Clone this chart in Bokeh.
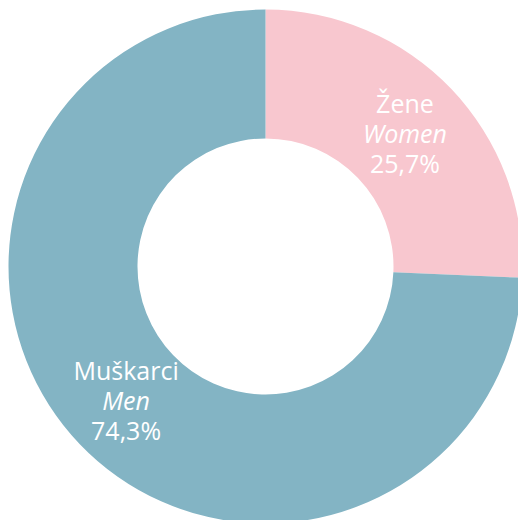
import math
from bokeh.plotting import figure
from bokeh.models import ColumnDataSource, Range1d
from bokeh.core.properties import value
from bokeh.embed import file_html
from bokeh.resources import INLINE

labels_hr = ["Žene", "Muškarci"]
labels_en = ["Women", "Men"]
shares = [25.7, 74.3]
pct_labels = ["25,7%", "74,3%"]
colors = ["#F8C7CF", "#83B4C4"]

# angles (clockwise from top)
starts, ends, mids = [], [], []
cum = 0.0
for s in shares:
    a0 = math.pi / 2 - 2 * math.pi * cum / 100.0
    a1 = math.pi / 2 - 2 * math.pi * (cum + s) / 100.0
    starts.append(a0)
    ends.append(a1)
    mids.append((a0 + a1) / 2)
    cum += s

R_OUT = 257
R_IN = 128
R_LAB = 193

src = ColumnDataSource(dict(start=starts, end=ends, color=colors,
                            x=[0] * len(shares), y=[0] * len(shares)))

p = figure(width=518, height=520, output_backend="svg", toolbar_location=None,
           x_range=Range1d(-265, 253), y_range=Range1d(-254, 266),
           min_border=0, outline_line_color=None)
p.axis.visible = False
p.grid.visible = False
p.background_fill_color = "white"
p.border_fill_color = "white"

p.annular_wedge(x="x", y="y", inner_radius=R_IN, outer_radius=R_OUT,
                start_angle="start", end_angle="end", direction="clock",
                fill_color="color", line_color=None, source=src)

lx = [R_LAB * math.cos(m) for m in mids]
ly = [R_LAB * math.sin(m) for m in mids]
lab = ColumnDataSource(dict(x=lx, y=ly, hr=labels_hr, en=labels_en, pct=pct_labels))

common = dict(x="x", y="y", source=lab, text_color="white", text_align="center",
              text_baseline="middle", text_font=value("Open Sans"),
              text_font_size="25px")
p.text(text="hr", y_offset=-30, **common)
p.text(text="en", y_offset=0, text_font_style="italic", **common)
p.text(text="pct", y_offset=30, **common)

open("out.html", "w").write(file_html(p, INLINE))
